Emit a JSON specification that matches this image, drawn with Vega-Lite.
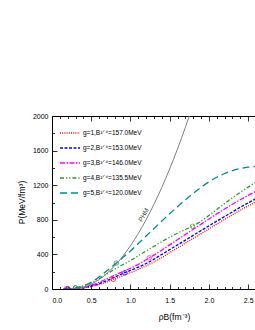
{
  "$schema": "https://vega.github.io/schema/vega-lite/v6.json",
  "width": 204,
  "height": 173,
  "autosize": {"type": "none"},
  "padding": {"left": 52, "top": 116, "right": 0, "bottom": 41},
  "config": {
    "view": {"stroke": null},
    "axis": {"labelFont": "Liberation Sans", "titleFont": "Liberation Sans", "labelFontSize": 7, "titleFontSize": 8.5, "labelColor": "#000", "titleColor": "#000", "domainColor": "#000", "tickColor": "#000", "titleFontWeight": "normal", "grid": false, "domainWidth": 1, "tickWidth": 0.8},
    "legend": {"labelFont": "Liberation Sans", "labelFontSize": 6.5, "labelColor": "#000"}
  },
  "datasets": {
    "curves": [
      {"series": "g=1,B¹ᐟ⁴=157.0MeV", "rho": 0.15, "P": 0}, {"series": "g=1,B¹ᐟ⁴=157.0MeV", "rho": 0.2, "P": 1}, {"series": "g=1,B¹ᐟ⁴=157.0MeV", "rho": 0.3, "P": 4}, {"series": "g=1,B¹ᐟ⁴=157.0MeV", "rho": 0.4, "P": 12}, {"series": "g=1,B¹ᐟ⁴=157.0MeV", "rho": 0.5, "P": 28}, {"series": "g=1,B¹ᐟ⁴=157.0MeV", "rho": 0.6, "P": 52}, {"series": "g=1,B¹ᐟ⁴=157.0MeV", "rho": 0.7, "P": 82}, {"series": "g=1,B¹ᐟ⁴=157.0MeV", "rho": 0.8, "P": 118}, {"series": "g=1,B¹ᐟ⁴=157.0MeV", "rho": 0.9, "P": 152}, {"series": "g=1,B¹ᐟ⁴=157.0MeV", "rho": 1.0, "P": 188}, {"series": "g=1,B¹ᐟ⁴=157.0MeV", "rho": 1.1, "P": 226}, {"series": "g=1,B¹ᐟ⁴=157.0MeV", "rho": 1.2, "P": 268}, {"series": "g=1,B¹ᐟ⁴=157.0MeV", "rho": 1.3, "P": 312}, {"series": "g=1,B¹ᐟ⁴=157.0MeV", "rho": 1.4, "P": 362}, {"series": "g=1,B¹ᐟ⁴=157.0MeV", "rho": 1.5, "P": 420}, {"series": "g=1,B¹ᐟ⁴=157.0MeV", "rho": 1.6, "P": 475}, {"series": "g=1,B¹ᐟ⁴=157.0MeV", "rho": 1.7, "P": 530}, {"series": "g=1,B¹ᐟ⁴=157.0MeV", "rho": 1.8, "P": 585}, {"series": "g=1,B¹ᐟ⁴=157.0MeV", "rho": 1.9, "P": 640}, {"series": "g=1,B¹ᐟ⁴=157.0MeV", "rho": 2.0, "P": 695}, {"series": "g=1,B¹ᐟ⁴=157.0MeV", "rho": 2.1, "P": 750}, {"series": "g=1,B¹ᐟ⁴=157.0MeV", "rho": 2.2, "P": 805}, {"series": "g=1,B¹ᐟ⁴=157.0MeV", "rho": 2.3, "P": 858}, {"series": "g=1,B¹ᐟ⁴=157.0MeV", "rho": 2.4, "P": 910}, {"series": "g=1,B¹ᐟ⁴=157.0MeV", "rho": 2.5, "P": 960}, {"series": "g=1,B¹ᐟ⁴=157.0MeV", "rho": 2.6, "P": 1008},
      {"series": "g=2,B¹ᐟ⁴=153.0MeV", "rho": 0.15, "P": 0}, {"series": "g=2,B¹ᐟ⁴=153.0MeV", "rho": 0.2, "P": 1}, {"series": "g=2,B¹ᐟ⁴=153.0MeV", "rho": 0.3, "P": 5}, {"series": "g=2,B¹ᐟ⁴=153.0MeV", "rho": 0.4, "P": 15}, {"series": "g=2,B¹ᐟ⁴=153.0MeV", "rho": 0.5, "P": 34}, {"series": "g=2,B¹ᐟ⁴=153.0MeV", "rho": 0.6, "P": 62}, {"series": "g=2,B¹ᐟ⁴=153.0MeV", "rho": 0.7, "P": 98}, {"series": "g=2,B¹ᐟ⁴=153.0MeV", "rho": 0.8, "P": 138}, {"series": "g=2,B¹ᐟ⁴=153.0MeV", "rho": 0.9, "P": 178}, {"series": "g=2,B¹ᐟ⁴=153.0MeV", "rho": 1.0, "P": 215}, {"series": "g=2,B¹ᐟ⁴=153.0MeV", "rho": 1.1, "P": 252}, {"series": "g=2,B¹ᐟ⁴=153.0MeV", "rho": 1.2, "P": 295}, {"series": "g=2,B¹ᐟ⁴=153.0MeV", "rho": 1.3, "P": 345}, {"series": "g=2,B¹ᐟ⁴=153.0MeV", "rho": 1.4, "P": 400}, {"series": "g=2,B¹ᐟ⁴=153.0MeV", "rho": 1.5, "P": 455}, {"series": "g=2,B¹ᐟ⁴=153.0MeV", "rho": 1.6, "P": 510}, {"series": "g=2,B¹ᐟ⁴=153.0MeV", "rho": 1.7, "P": 565}, {"series": "g=2,B¹ᐟ⁴=153.0MeV", "rho": 1.8, "P": 620}, {"series": "g=2,B¹ᐟ⁴=153.0MeV", "rho": 1.9, "P": 675}, {"series": "g=2,B¹ᐟ⁴=153.0MeV", "rho": 2.0, "P": 730}, {"series": "g=2,B¹ᐟ⁴=153.0MeV", "rho": 2.1, "P": 785}, {"series": "g=2,B¹ᐟ⁴=153.0MeV", "rho": 2.2, "P": 838}, {"series": "g=2,B¹ᐟ⁴=153.0MeV", "rho": 2.3, "P": 892}, {"series": "g=2,B¹ᐟ⁴=153.0MeV", "rho": 2.4, "P": 945}, {"series": "g=2,B¹ᐟ⁴=153.0MeV", "rho": 2.5, "P": 995}, {"series": "g=2,B¹ᐟ⁴=153.0MeV", "rho": 2.6, "P": 1045},
      {"series": "g=3,B¹ᐟ⁴=146.0MeV", "rho": 0.15, "P": 0}, {"series": "g=3,B¹ᐟ⁴=146.0MeV", "rho": 0.2, "P": 2}, {"series": "g=3,B¹ᐟ⁴=146.0MeV", "rho": 0.3, "P": 7}, {"series": "g=3,B¹ᐟ⁴=146.0MeV", "rho": 0.4, "P": 20}, {"series": "g=3,B¹ᐟ⁴=146.0MeV", "rho": 0.5, "P": 44}, {"series": "g=3,B¹ᐟ⁴=146.0MeV", "rho": 0.6, "P": 78}, {"series": "g=3,B¹ᐟ⁴=146.0MeV", "rho": 0.7, "P": 118}, {"series": "g=3,B¹ᐟ⁴=146.0MeV", "rho": 0.8, "P": 160}, {"series": "g=3,B¹ᐟ⁴=146.0MeV", "rho": 0.9, "P": 200}, {"series": "g=3,B¹ᐟ⁴=146.0MeV", "rho": 1.0, "P": 240}, {"series": "g=3,B¹ᐟ⁴=146.0MeV", "rho": 1.1, "P": 285}, {"series": "g=3,B¹ᐟ⁴=146.0MeV", "rho": 1.2, "P": 338}, {"series": "g=3,B¹ᐟ⁴=146.0MeV", "rho": 1.3, "P": 392}, {"series": "g=3,B¹ᐟ⁴=146.0MeV", "rho": 1.4, "P": 450}, {"series": "g=3,B¹ᐟ⁴=146.0MeV", "rho": 1.5, "P": 510}, {"series": "g=3,B¹ᐟ⁴=146.0MeV", "rho": 1.6, "P": 570}, {"series": "g=3,B¹ᐟ⁴=146.0MeV", "rho": 1.7, "P": 630}, {"series": "g=3,B¹ᐟ⁴=146.0MeV", "rho": 1.8, "P": 690}, {"series": "g=3,B¹ᐟ⁴=146.0MeV", "rho": 1.9, "P": 750}, {"series": "g=3,B¹ᐟ⁴=146.0MeV", "rho": 2.0, "P": 810}, {"series": "g=3,B¹ᐟ⁴=146.0MeV", "rho": 2.1, "P": 868}, {"series": "g=3,B¹ᐟ⁴=146.0MeV", "rho": 2.2, "P": 925}, {"series": "g=3,B¹ᐟ⁴=146.0MeV", "rho": 2.3, "P": 980}, {"series": "g=3,B¹ᐟ⁴=146.0MeV", "rho": 2.4, "P": 1032}, {"series": "g=3,B¹ᐟ⁴=146.0MeV", "rho": 2.5, "P": 1082}, {"series": "g=3,B¹ᐟ⁴=146.0MeV", "rho": 2.6, "P": 1130},
      {"series": "g=4,B¹ᐟ⁴=135.5MeV", "rho": 0.15, "P": 0}, {"series": "g=4,B¹ᐟ⁴=135.5MeV", "rho": 0.2, "P": 3}, {"series": "g=4,B¹ᐟ⁴=135.5MeV", "rho": 0.3, "P": 14}, {"series": "g=4,B¹ᐟ⁴=135.5MeV", "rho": 0.4, "P": 36}, {"series": "g=4,B¹ᐟ⁴=135.5MeV", "rho": 0.5, "P": 72}, {"series": "g=4,B¹ᐟ⁴=135.5MeV", "rho": 0.6, "P": 120}, {"series": "g=4,B¹ᐟ⁴=135.5MeV", "rho": 0.7, "P": 175}, {"series": "g=4,B¹ᐟ⁴=135.5MeV", "rho": 0.8, "P": 230}, {"series": "g=4,B¹ᐟ⁴=135.5MeV", "rho": 0.9, "P": 280}, {"series": "g=4,B¹ᐟ⁴=135.5MeV", "rho": 1.0, "P": 330}, {"series": "g=4,B¹ᐟ⁴=135.5MeV", "rho": 1.1, "P": 385}, {"series": "g=4,B¹ᐟ⁴=135.5MeV", "rho": 1.2, "P": 440}, {"series": "g=4,B¹ᐟ⁴=135.5MeV", "rho": 1.3, "P": 495}, {"series": "g=4,B¹ᐟ⁴=135.5MeV", "rho": 1.4, "P": 548}, {"series": "g=4,B¹ᐟ⁴=135.5MeV", "rho": 1.5, "P": 598}, {"series": "g=4,B¹ᐟ⁴=135.5MeV", "rho": 1.6, "P": 645}, {"series": "g=4,B¹ᐟ⁴=135.5MeV", "rho": 1.7, "P": 688}, {"series": "g=4,B¹ᐟ⁴=135.5MeV", "rho": 1.8, "P": 730}, {"series": "g=4,B¹ᐟ⁴=135.5MeV", "rho": 1.9, "P": 785}, {"series": "g=4,B¹ᐟ⁴=135.5MeV", "rho": 2.0, "P": 850}, {"series": "g=4,B¹ᐟ⁴=135.5MeV", "rho": 2.1, "P": 918}, {"series": "g=4,B¹ᐟ⁴=135.5MeV", "rho": 2.2, "P": 988}, {"series": "g=4,B¹ᐟ⁴=135.5MeV", "rho": 2.3, "P": 1055}, {"series": "g=4,B¹ᐟ⁴=135.5MeV", "rho": 2.4, "P": 1118}, {"series": "g=4,B¹ᐟ⁴=135.5MeV", "rho": 2.5, "P": 1178}, {"series": "g=4,B¹ᐟ⁴=135.5MeV", "rho": 2.6, "P": 1235},
      {"series": "g=5,B¹ᐟ⁴=120.0MeV", "rho": 0.15, "P": 0}, {"series": "g=5,B¹ᐟ⁴=120.0MeV", "rho": 0.2, "P": 2}, {"series": "g=5,B¹ᐟ⁴=120.0MeV", "rho": 0.3, "P": 12}, {"series": "g=5,B¹ᐟ⁴=120.0MeV", "rho": 0.4, "P": 35}, {"series": "g=5,B¹ᐟ⁴=120.0MeV", "rho": 0.5, "P": 78}, {"series": "g=5,B¹ᐟ⁴=120.0MeV", "rho": 0.6, "P": 140}, {"series": "g=5,B¹ᐟ⁴=120.0MeV", "rho": 0.7, "P": 210}, {"series": "g=5,B¹ᐟ⁴=120.0MeV", "rho": 0.8, "P": 285}, {"series": "g=5,B¹ᐟ⁴=120.0MeV", "rho": 0.9, "P": 360}, {"series": "g=5,B¹ᐟ⁴=120.0MeV", "rho": 1.0, "P": 440}, {"series": "g=5,B¹ᐟ⁴=120.0MeV", "rho": 1.1, "P": 525}, {"series": "g=5,B¹ᐟ⁴=120.0MeV", "rho": 1.2, "P": 612}, {"series": "g=5,B¹ᐟ⁴=120.0MeV", "rho": 1.3, "P": 700}, {"series": "g=5,B¹ᐟ⁴=120.0MeV", "rho": 1.4, "P": 785}, {"series": "g=5,B¹ᐟ⁴=120.0MeV", "rho": 1.5, "P": 870}, {"series": "g=5,B¹ᐟ⁴=120.0MeV", "rho": 1.6, "P": 952}, {"series": "g=5,B¹ᐟ⁴=120.0MeV", "rho": 1.7, "P": 1030}, {"series": "g=5,B¹ᐟ⁴=120.0MeV", "rho": 1.8, "P": 1105}, {"series": "g=5,B¹ᐟ⁴=120.0MeV", "rho": 1.9, "P": 1175}, {"series": "g=5,B¹ᐟ⁴=120.0MeV", "rho": 2.0, "P": 1238}, {"series": "g=5,B¹ᐟ⁴=120.0MeV", "rho": 2.1, "P": 1292}, {"series": "g=5,B¹ᐟ⁴=120.0MeV", "rho": 2.2, "P": 1335}, {"series": "g=5,B¹ᐟ⁴=120.0MeV", "rho": 2.3, "P": 1368}, {"series": "g=5,B¹ᐟ⁴=120.0MeV", "rho": 2.4, "P": 1392}, {"series": "g=5,B¹ᐟ⁴=120.0MeV", "rho": 2.5, "P": 1408}, {"series": "g=5,B¹ᐟ⁴=120.0MeV", "rho": 2.6, "P": 1418}
    ],
    "hm": [
      {"rho": 0.25, "P": 0}, {"rho": 0.3, "P": 2}, {"rho": 0.4, "P": 20}, {"rho": 0.5, "P": 56}, {"rho": 0.6, "P": 109}, {"rho": 0.7, "P": 180}, {"rho": 0.8, "P": 269}, {"rho": 0.9, "P": 376}, {"rho": 1.0, "P": 500}, {"rho": 1.1, "P": 642}, {"rho": 1.2, "P": 802}, {"rho": 1.3, "P": 980}, {"rho": 1.4, "P": 1176}, {"rho": 1.5, "P": 1389}, {"rho": 1.6, "P": 1620}, {"rho": 1.7, "P": 1869}, {"rho": 1.8, "P": 2134}
    ],
    "pts": [
      {"series": "g=1,B¹ᐟ⁴=157.0MeV", "rho": 0.2, "P": 1}, {"series": "g=1,B¹ᐟ⁴=157.0MeV", "rho": 0.78, "P": 112},
      {"series": "g=2,B¹ᐟ⁴=153.0MeV", "rho": 0.2, "P": 1}, {"series": "g=2,B¹ᐟ⁴=153.0MeV", "rho": 0.93, "P": 188},
      {"series": "g=3,B¹ᐟ⁴=146.0MeV", "rho": 0.18, "P": 1}, {"series": "g=3,B¹ᐟ⁴=146.0MeV", "rho": 1.24, "P": 360},
      {"series": "g=4,B¹ᐟ⁴=135.5MeV", "rho": 0.3, "P": 14}, {"series": "g=4,B¹ᐟ⁴=135.5MeV", "rho": 1.79, "P": 725},
      {"series": "g=5,B¹ᐟ⁴=120.0MeV", "rho": 0.3, "P": 12}, {"series": "g=5,B¹ᐟ⁴=120.0MeV", "rho": 0.82, "P": 300}
    ],
    "lbl": [{"rho": 1.17, "P": 855, "text": "PHM"}]
  },
  "layer": [
    {
      "data": {"name": "curves"},
      "mark": {"type": "line", "strokeWidth": 1.3, "interpolate": "monotone", "clip": true},
      "encoding": {
        "x": {"field": "rho", "type": "quantitative", "scale": {"domain": [0, 2.6], "nice": false},
              "axis": {"orient": "bottom", "values": [0, 0.5, 1, 1.5, 2, 2.5], "format": ".1f", "tickSize": -5, "labelPadding": 12, "title": "ρB(fm⁻³)", "titleX": 122, "titleY": 23, "titleBaseline": "top", "titleAlign": "center"}},
        "y": {"field": "P", "type": "quantitative", "scale": {"domain": [0, 2000], "nice": false},
              "axis": {"orient": "left", "values": [0, 400, 800, 1200, 1600, 2000], "format": "d", "tickSize": -5, "labelPadding": 9, "title": "P(MeV/fm³)", "titleX": -31, "titleY": 86, "titleBaseline": "middle", "titleAlign": "center", "titleAngle": -90}},
        "color": {"field": "series", "type": "nominal",
                  "scale": {"domain": ["g=1,B¹ᐟ⁴=157.0MeV", "g=2,B¹ᐟ⁴=153.0MeV", "g=3,B¹ᐟ⁴=146.0MeV", "g=4,B¹ᐟ⁴=135.5MeV", "g=5,B¹ᐟ⁴=120.0MeV"], "range": ["#ff0000", "#0000ff", "#ff00ff", "#2e962e", "#008b8b"]},
                  "legend": {"orient": "none", "legendX": 7, "legendY": 6, "title": null, "symbolType": "stroke", "symbolSize": 400, "symbolStrokeWidth": 1.3, "rowPadding": -5.5, "labelOffset": 2, "padding": 0}},
        "strokeDash": {"field": "series", "type": "nominal",
                  "scale": {"domain": ["g=1,B¹ᐟ⁴=157.0MeV", "g=2,B¹ᐟ⁴=153.0MeV", "g=3,B¹ᐟ⁴=146.0MeV", "g=4,B¹ᐟ⁴=135.5MeV", "g=5,B¹ᐟ⁴=120.0MeV"], "range": [[1, 1.2], [3, 1.5], [5, 1.5, 1.5, 1.5], [4, 2, 1.2, 2, 1.2, 2], [7, 4]]},
                  "legend": {"orient": "none", "legendX": 7, "legendY": 6, "title": null, "symbolType": "stroke", "symbolSize": 400, "symbolStrokeWidth": 1.3, "rowPadding": -5.5, "labelOffset": 2, "padding": 0}}
      }
    },
    {
      "data": {"name": "hm"},
      "mark": {"type": "line", "color": "#7f7f7f", "strokeWidth": 1, "interpolate": "monotone", "clip": true},
      "encoding": {
        "x": {"field": "rho", "type": "quantitative", "axis": {"orient": "bottom", "values": [0.1, 0.2, 0.3, 0.4, 0.6, 0.7, 0.8, 0.9, 1.1, 1.2, 1.3, 1.4, 1.6, 1.7, 1.8, 1.9, 2.1, 2.2, 2.3, 2.4, 2.6], "labels": false, "tickSize": -2.5, "domain": false, "title": null}},
        "y": {"field": "P", "type": "quantitative", "axis": {"orient": "left", "values": [200, 600, 1000, 1400, 1800], "labels": false, "tickSize": -2.5, "domain": false, "title": null}}
      }
    },
    {
      "data": {"name": "pts"},
      "mark": {"type": "point", "filled": false, "size": 20, "strokeWidth": 1, "clip": true},
      "encoding": {
        "x": {"field": "rho", "type": "quantitative", "axis": {"orient": "top", "values": [0, 0.5, 1, 1.5, 2, 2.5], "labels": false, "tickSize": -5, "title": null}},
        "y": {"field": "P", "type": "quantitative", "axis": null},
        "color": {"field": "series", "type": "nominal", "legend": null}
      }
    },
    {
      "data": {"name": "lbl"},
      "mark": {"type": "text", "angle": -61, "fontSize": 6.5, "font": "Liberation Sans", "color": "#333", "align": "center", "baseline": "middle"},
      "encoding": {
        "x": {"field": "rho", "type": "quantitative", "axis": {"orient": "top", "values": [0.1, 0.2, 0.3, 0.4, 0.6, 0.7, 0.8, 0.9, 1.1, 1.2, 1.3, 1.4, 1.6, 1.7, 1.8, 1.9, 2.1, 2.2, 2.3, 2.4, 2.6], "labels": false, "tickSize": -2.5, "domain": false, "title": null}},
        "y": {"field": "P", "type": "quantitative", "axis": null},
        "text": {"field": "text"}
      }
    }
  ],
  "resolve": {"axis": {"x": "independent", "y": "independent"}}
}
